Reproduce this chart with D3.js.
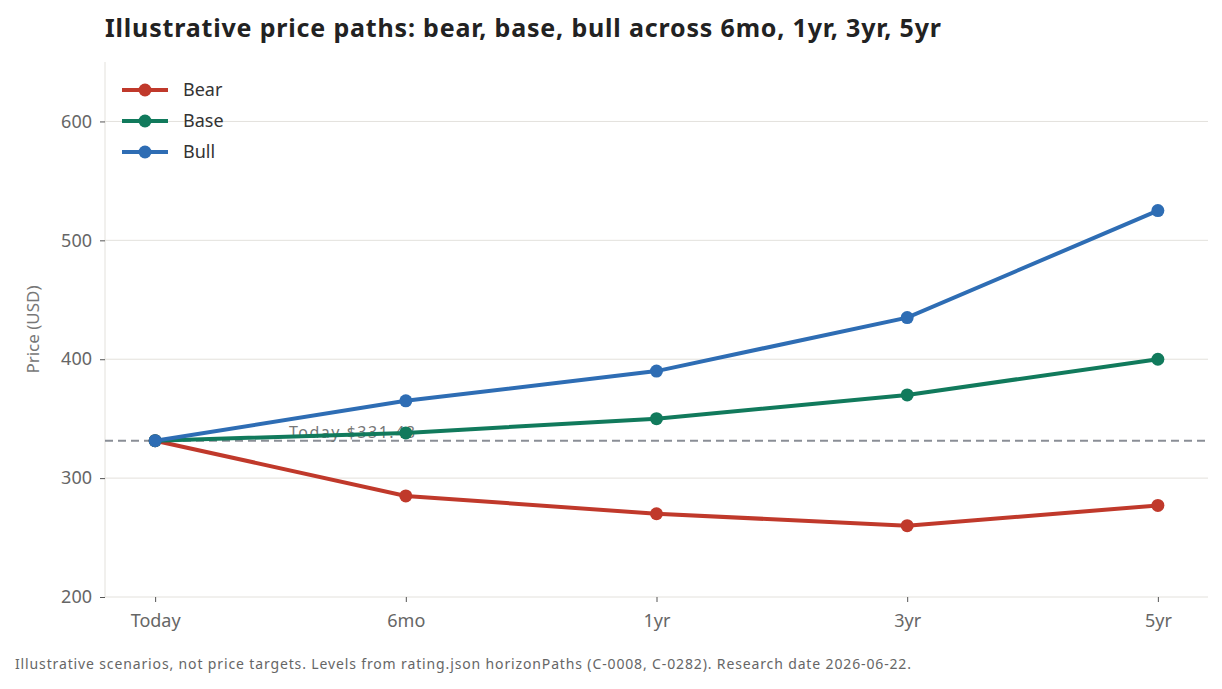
<!DOCTYPE html><html><head><meta charset="utf-8"><script src="https://cdn.jsdelivr.net/npm/d3@7"></script>
<style>body{margin:0;background:#fff;font-family:"Noto Sans",sans-serif}</style></head><body><svg id="c" width="1222" height="689"></svg>
<script>
const categories=["Today","6mo","1yr","3yr","5yr"];
const bear=[331.48,285,270,260,277];
const base=[331.48,338,350,370,400];
const bull=[331.48,365,390,435,525];
const yTicks=[200,300,400,500,600];
const today=331.48;
const series=[{name:"Bear",values:bear,color:"#c0392b"},{name:"Base",values:base,color:"#117a5c"},{name:"Bull",values:bull,color:"#2e6db4"}];
const svg=d3.select("#c");
const L=105,R=1208,T=62,B=597;
const x=d3.scalePoint().domain(categories).range([L,R]).padding(0.2);
const y=d3.scaleLinear().domain([200,650]).range([B,T]);
svg.append("text").attr("x",105).attr("y",37).attr("font-size",25).attr("font-weight",700).attr("fill","#222").attr("textLength",836).attr("lengthAdjust","spacing").text("Illustrative price paths: bear, base, bull across 6mo, 1yr, 3yr, 5yr");
svg.append("g").selectAll("line").data(yTicks.slice(1)).join("line").attr("x1",L).attr("x2",R).attr("y1",d=>y(d)).attr("y2",d=>y(d)).attr("stroke","#e3e1dc");
const ya=svg.append("g").attr("transform",`translate(${L},0)`).call(d3.axisLeft(y).tickValues(yTicks).tickSize(5).tickPadding(8));
ya.select(".domain").attr("stroke","#e3e1dc").attr("d",`M0,${B}V${T}`);
ya.selectAll("line").attr("stroke","#555");
ya.selectAll("text").attr("font-size",18).attr("fill","#666").attr("font-family","Noto Sans");
const xa=svg.append("g").attr("transform",`translate(0,${B})`).call(d3.axisBottom(x).tickSize(5).tickPadding(12));
xa.select(".domain").attr("stroke","#e3e1dc").attr("d",`M${L},0H${R}`);
xa.selectAll("line").attr("stroke","#555");
xa.selectAll("text").attr("font-size",18).attr("fill","#666").attr("font-family","Noto Sans");
svg.append("text").attr("transform",`translate(39,${y(425)}) rotate(-90)`).attr("text-anchor","middle").attr("font-size",17).attr("fill","#777").text("Price (USD)");
svg.append("line").attr("x1",L).attr("x2",R).attr("y1",y(today)).attr("y2",y(today)).attr("stroke","#8a8e96").attr("stroke-width",2).attr("stroke-dasharray","8,5");
svg.append("text").attr("x",289).attr("y",y(today)-3).attr("font-size",16).attr("fill","#777").attr("textLength",126).text("Today $"+today.toFixed(2));
const line=d3.line().x((d,i)=>x(categories[i])).y(d=>y(d));
series.forEach(s=>{
 svg.append("path").attr("d",line(s.values)).attr("fill","none").attr("stroke",s.color).attr("stroke-width",4);
 svg.append("g").selectAll("circle").data(s.values).join("circle").attr("cx",(d,i)=>x(categories[i])).attr("cy",d=>y(d)).attr("r",6.5).attr("fill",s.color);
});
series.forEach((s,i)=>{
 const yy=90+i*31;
 svg.append("line").attr("x1",122).attr("x2",168).attr("y1",yy).attr("y2",yy).attr("stroke",s.color).attr("stroke-width",4);
 svg.append("circle").attr("cx",145).attr("cy",yy).attr("r",6.5).attr("fill",s.color);
 svg.append("text").attr("x",183).attr("y",yy+6).attr("font-size",18).attr("fill","#333").text(s.name);
});
svg.append("text").attr("x",15).attr("y",669).attr("font-size",14).attr("fill","#666").attr("textLength",896).attr("lengthAdjust","spacing").text("Illustrative scenarios, not price targets. Levels from rating.json horizonPaths (C-0008, C-0282). Research date 2026-06-22.");
</script></body></html>
